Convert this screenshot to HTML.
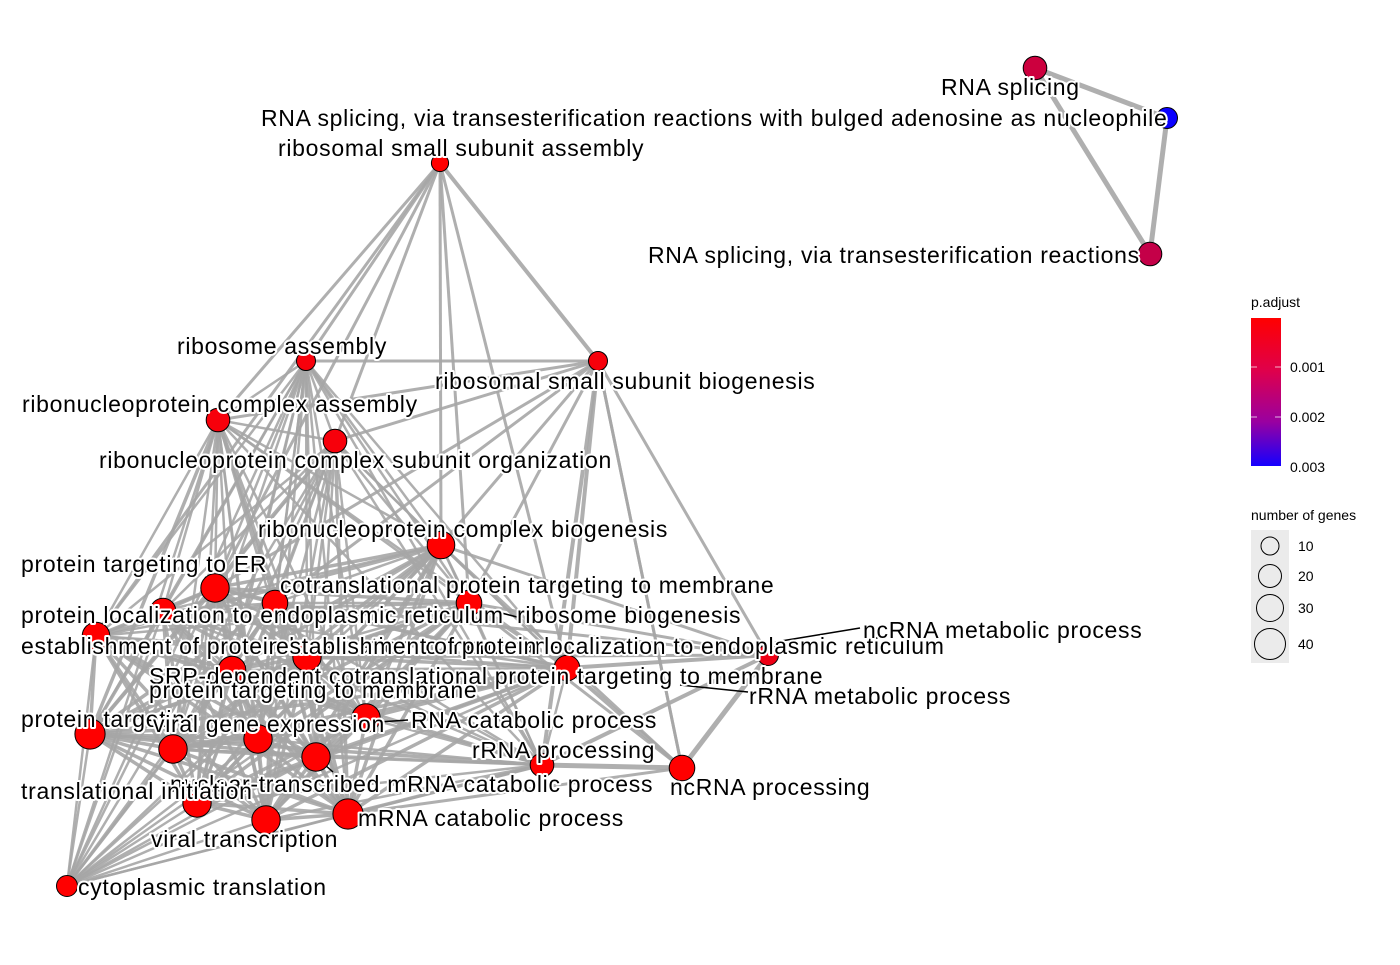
<!DOCTYPE html>
<html><head><meta charset="utf-8"><style>
html,body{margin:0;padding:0;background:#fff;}
svg text{font-family:"Liberation Sans",Arial,sans-serif;}
.lab{font-size:23px;letter-spacing:0.7px;fill:#000;stroke:#fff;stroke-width:4px;paint-order:stroke;stroke-linejoin:round;}
.leg{font-size:14px;fill:#000;}
</style></head><body>
<svg id="chart" width="1400" height="960" viewBox="0 0 1400 960" xmlns="http://www.w3.org/2000/svg">
<g id="edges"></g>
<g id="leaders"></g>
<g id="nodes"></g>
<g id="labels"></g>
<g>
  <text class="leg" x="1251" y="307">p.adjust</text>
  <defs><linearGradient id="pg" x1="0" y1="0" x2="0" y2="1"><stop offset="0" stop-color="#ff0000"/><stop offset="0.35" stop-color="#e0004a"/><stop offset="0.7" stop-color="#9a00a0"/><stop offset="1" stop-color="#1400ff"/></linearGradient></defs>
  <rect x="1251" y="318" width="30" height="148" fill="url(#pg)"/>
  <g stroke="#fff" stroke-width="1" opacity="0.7">
    <line x1="1251" y1="367" x2="1257" y2="367"/><line x1="1275" y1="367" x2="1281" y2="367"/>
    <line x1="1251" y1="417" x2="1257" y2="417"/><line x1="1275" y1="417" x2="1281" y2="417"/>
  </g>
  <text class="leg" x="1290" y="372">0.001</text>
  <text class="leg" x="1290" y="422">0.002</text>
  <text class="leg" x="1290" y="472">0.003</text>
</g>
<g>
  <text class="leg" x="1251" y="520">number of genes</text>
  <rect x="1251" y="530" width="38" height="133" fill="#ebebeb"/>
  <circle cx="1270" cy="546" r="9" fill="none" stroke="#000"/>
  <circle cx="1270" cy="576" r="11.5" fill="none" stroke="#000"/>
  <circle cx="1270" cy="608" r="13.5" fill="none" stroke="#000"/>
  <circle cx="1270" cy="644" r="15.5" fill="none" stroke="#000"/>
  <text class="leg" x="1298" y="551">10</text>
  <text class="leg" x="1298" y="581">20</text>
  <text class="leg" x="1298" y="613">30</text>
  <text class="leg" x="1298" y="649">40</text>
</g>
</svg>
<script>
const NS="http://www.w3.org/2000/svg";
const nodeNames=["ribosomal small subunit assembly","RNA splicing","RNA splicing, via transesterification reactions with bulged adenosine as nucleophile","RNA splicing, via transesterification reactions","ribosome assembly","ribosomal small subunit biogenesis","ribonucleoprotein complex assembly","ribonucleoprotein complex subunit organization","ribonucleoprotein complex biogenesis","protein targeting to ER","protein localization to endoplasmic reticulum","cotranslational protein targeting to membrane","ribosome biogenesis","establishment of protein localization to membrane","establishment of protein localization to endoplasmic reticulum","SRP-dependent cotranslational protein targeting to membrane","rRNA metabolic process","ncRNA metabolic process","RNA catabolic process","protein targeting","protein targeting to membrane","viral gene expression","nuclear-transcribed mRNA catabolic process","rRNA processing","ncRNA processing","translational initiation","viral transcription","mRNA catabolic process","cytoplasmic translation"];
const nodeX=[440,1035,1167,1150,306,598,218,335,441,215,163,275,469,96,307,232,567,768,366,90,173,258,316,542,682,197,266,348,67];
const nodeY=[163,68,118,254,361,361,420,441,545,588,611,603,603,636,657,670,668,655,718,734,749,739,757,765,768,803,820,814,886];
const geneCount=[5,18,12,18,8,8,18,18,30,33,24,24,24,30,33,30,24,12,33,40,33,33,33,18,24,33,33,40,12];
const pAdjust=[0.0001,0.0007,0.003,0.0008,0.0002,0.0002,0.0002,0.0002,0.0001,0.0001,0.0001,0.0001,0.0001,0.0001,0.0001,0.0001,0.0001,0.0003,0.0001,0.0001,0.0001,0.0001,0.0001,0.0001,0.0001,0.0001,0.0001,0.0001,0.0001];
const labelX=[278,941,261,648,177,435,22,99,258,21,21,280,517,21,276,149,749,863,411,21,149,153,170,472,670,21,151,358,78];
const labelY=[156,95,126,263,354,389,412,468,537,572,623,593,623,654,654,684,704,638,728,727,698,732,792,758,795,799,847,826,895];
const extraEdges=[[1,2,5],[1,3,5],[2,3,5],[0,4,3],[0,5,4],[0,6,3],[0,7,3],[0,8,3],[0,12,3],[0,16,3],[0,13,3],[0,9,3],[5,4,3],[5,6,3],[5,7,3],[5,8,3],[5,12,3],[5,16,4],[5,23,4],[5,24,3],[5,17,3],[5,9,3],[5,11,3],[17,12,3],[17,16,4],[17,23,4],[17,24,5],[17,8,3],[17,11,3],[17,14,3],[24,16,4],[24,23,5],[24,12,3],[24,8,3],[24,27,3],[24,5,3]];
const denseCluster=[4,6,7,8,9,10,11,12,13,14,15,16,18,19,20,21,22,23,25,26,27,28];
const leaderLines=[[9,"protein targeting to ER",205,577,228,595],[12,"ribosome biogenesis",490,610,517,617],[17,"ncRNA metabolic process",775,642,860,628],[16,"rRNA metabolic process",680,685,748,692],[22,"nuclear-transcribed",316,757,333,772],[18,"RNA catabolic process",380,722,408,720]];

function rScale(g){return 5+Math.sqrt(g)*1.6;}
function colScale(p){const t=Math.min(1,Math.max(0,(p-0.0001)/0.0029));
  const r=Math.round(255*(1-t)+10*t), b=Math.round(20*t*(1-t)*4+255*t*t+30*t*(1-t));
  return `rgb(${r},0,${Math.min(255,b+Math.round(t>0?200*t*(1-t):0))})`;}

const eg=document.getElementById('edges');
function addEdge(i,j,w){
  const l=document.createElementNS(NS,'line');
  l.setAttribute('x1',nodeX[i]);l.setAttribute('y1',nodeY[i]);l.setAttribute('x2',nodeX[j]);l.setAttribute('y2',nodeY[j]);
  l.setAttribute('stroke','#a6a6a6');l.setAttribute('stroke-width',w);l.setAttribute('stroke-opacity','0.9');
  
  
  eg.appendChild(l);
}
for(const e of extraEdges) addEdge(e[0],e[1],e[2]);
for(let a=0;a<denseCluster.length;a++)for(let b=a+1;b<denseCluster.length;b++){
  const i=denseCluster[a],j=denseCluster[b];
  addEdge(i,j,(geneCount[i]+geneCount[j])>55?3.5:2.5);
}
const lg=document.getElementById('leaders');
for(const L of leaderLines){
  const l=document.createElementNS(NS,'line');
  l.setAttribute('x1',L[2]);l.setAttribute('y1',L[3]);l.setAttribute('x2',L[4]);l.setAttribute('y2',L[5]);
  l.setAttribute('stroke','#000');l.setAttribute('stroke-width','1.5');
  
  
  lg.appendChild(l);
}
const ng=document.getElementById('nodes');
for(let i=0;i<nodeNames.length;i++){
  const c=document.createElementNS(NS,'circle');
  c.setAttribute('cx',nodeX[i]);c.setAttribute('cy',nodeY[i]);c.setAttribute('r',rScale(geneCount[i]).toFixed(1));
  c.setAttribute('fill',colScale(pAdjust[i]));c.setAttribute('stroke','#000');c.setAttribute('stroke-width','1');
  
  
  ng.appendChild(c);
}
const tg=document.getElementById('labels');
for(let i=0;i<nodeNames.length;i++){
  const t=document.createElementNS(NS,'text');
  t.setAttribute('class','lab');t.setAttribute('x',labelX[i]);t.setAttribute('y',labelY[i]);
  t.textContent=nodeNames[i];
  
  
  tg.appendChild(t);
}
</script>
</body></html>
